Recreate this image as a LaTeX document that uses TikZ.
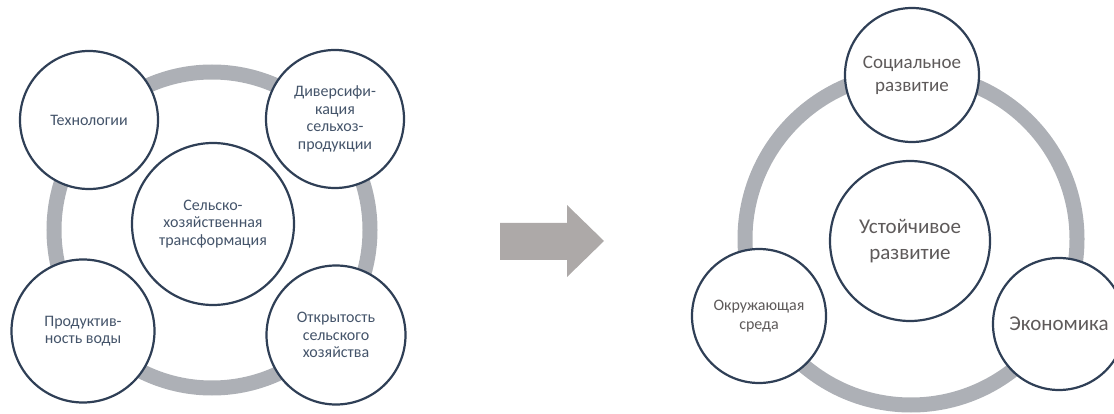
\documentclass[tikz,border=0pt]{standalone}
\usepackage{fontspec}
\setmainfont{Carlito}
\definecolor{ringgray}{HTML}{ADB0B6}
\definecolor{navy}{HTML}{2F3F56}
\definecolor{slate}{HTML}{44546A}
\definecolor{warmgray}{HTML}{5E5A5A}
\definecolor{arrowgray}{HTML}{ADA9A8}
\tikzset{
  ring/.style={draw=ringgray, line width=15pt},
  bubble/.style={circle, draw=navy, line width=2.2pt, fill=white, align=center, inner sep=0pt},
  ltext/.style={text=slate, font=\fontsize{16}{17.5}\selectfont},
  rtext/.style={text=warmgray},
}
\begin{document}
\begin{tikzpicture}[x=1pt,y=-1pt]
\useasboundingbox (0,0) rectangle (1114,414);
\clip (0,0) rectangle (1114,414);
% left diagram
\coordinate (lc) at (212,230);
\draw[ring] (lc) circle[radius=158];
\node[bubble, ltext, minimum size=162] (agri) at (213,224) {Сельско-\\хозяйственная\\трансформация};
\node[bubble, ltext, minimum size=138] (tech) at (89,120) {Технологии};
\node[bubble, ltext, minimum size=138] (div) at (335,119) {Диверсифи-\\кация\\сельхоз-\\продукции};
\node[bubble, ltext, minimum size=143] (prod) at (83,331) {Продуктив-\\ность воды};
\node[bubble, ltext, minimum size=139] (open) at (336,335) {Открытость\\сельского\\хозяйства};
% arrow
\fill[arrowgray] (500,223) -- (567,223) -- (567,205) -- (604,241) -- (567,277) -- (567,260) -- (500,260) -- cycle;
% right diagram
\coordinate (rc) at (911,239);
\draw[ring] (rc) circle[radius=166];
\node[bubble, rtext, minimum size=160, font=\fontsize{21}{26.5}\selectfont] (sust) at (910,241) {Устойчивое\\развитие};
\node[bubble, rtext, minimum size=134, font=\fontsize{19}{23}\selectfont] (soc) at (912,75) {Социальное\\развитие};
\node[bubble, rtext, minimum size=134, font=\fontsize{16}{19}\selectfont] (env) at (759,316) {Окружающая\\среда};
\node[bubble, rtext, minimum size=132, font=\fontsize{21}{26}\selectfont] (econ) at (1059,324) {Экономика};
\end{tikzpicture}
\end{document}
